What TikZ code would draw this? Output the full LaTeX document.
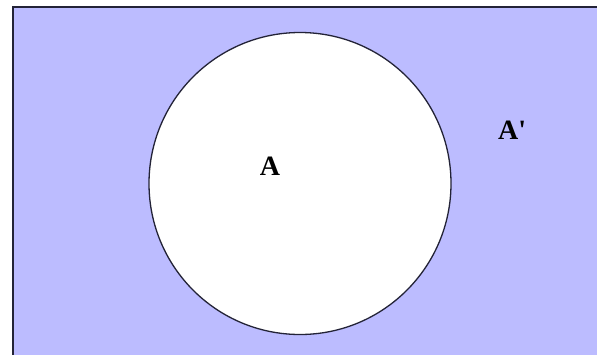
\documentclass[tikz,border=0pt]{standalone}
\usepackage{fontspec}
\setmainfont{Liberation Serif}
\newfontfamily\rawserif{Liberation Serif}
\definecolor{bgfill}{RGB}{188,188,255}
\definecolor{edge}{RGB}{35,35,55}
\tikzset{
  lbl/.style={font=\rawserif\fontsize{28}{30}\selectfont\bfseries, text=black, inner sep=0pt},
  setline/.style={draw=edge, line width=1.3pt}
}
\begin{document}
\begin{tikzpicture}[x=1pt,y=-1pt]
\useasboundingbox (0,0) rectangle (597,354);
\fill[white] (0,0) rectangle (597,354);
\path[setline, fill=bgfill] (13,7) rectangle (600,358);
\node[setline, fill=white, circle, minimum size=302pt, inner sep=0pt] (setA) at (300,183.5) {};
\node[lbl] (labA) at (270,166) {A};
\node[lbl, anchor=base west] (labAc) at (498,139) {A'};
\end{tikzpicture}
\end{document}
